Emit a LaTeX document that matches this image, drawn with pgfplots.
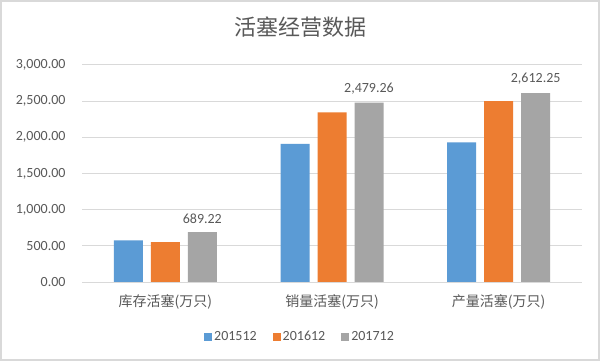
\documentclass[border=0pt]{standalone}
\usepackage{pgfplots}
\pgfplotsset{compat=1.18}
\usepackage{fontspec}
\setmainfont{Carlito}
\newfontfamily\cjk{Noto Sans CJK SC}
\definecolor{sblue}{HTML}{5B9BD5}
\definecolor{sorange}{HTML}{ED7D31}
\definecolor{sgray}{HTML}{A5A5A5}
\definecolor{txt}{HTML}{595959}
\definecolor{gridc}{HTML}{D9D9D9}
\begin{document}
\begin{tikzpicture}
\path[use as bounding box] (0,0) rectangle (600bp,361bp);
\fill[white] (0,0) rectangle (600bp,361bp);
\draw[gridc, line width=1.5bp] (1bp,1bp) rectangle (599bp,360bp);
\begin{axis}[
  at={(82bp,79bp)}, anchor=south west,
  scale only axis, width=500bp, height=217bp,
  xmin=-0.5, xmax=2.5, ymin=0, ymax=3000,
  ybar=8bp, bar width=29bp,
  xtick={0,1,2},
  xticklabels={{\cjk 库存活塞(万只)},{\cjk 销量活塞(万只)},{\cjk 产量活塞(万只)}},
  ytick={0,500,...,3000},
  /pgf/number format/.cd, fixed, fixed zerofill, precision=2, 1000 sep={,}, assume math mode=true,
  /pgfplots/.cd,
  yticklabel style={font=\fontsize{14bp}{16bp}\selectfont, text=txt, xshift=-13bp},
  xticklabel style={font=\fontsize{14bp}{16bp}\selectfont, text=txt, yshift=-9bp},
  major tick length=0pt,
  ymajorgrids, xmajorgrids=false, grid style={draw=gridc, line width=1bp},
  axis line style={draw=none},
  title={\cjk 活塞经营数据},
  title style={font=\fontsize{22bp}{26bp}\selectfont, text=txt, at={(0.436,1)}, anchor=center, yshift=32bp},
  legend style={at={(0.436,-0.2535)}, anchor=center, draw=none, fill=none,
    font=\fontsize{14bp}{16bp}\selectfont, text=txt, legend columns=3,
    /tikz/every even column/.append style={column sep=14bp}},
  legend image code/.code={\fill[#1] (0bp,-4bp) rectangle (8bp,4bp);},
]
\draw[gridc, line width=1bp] (axis cs:-0.5,0) -- (axis cs:2.5,0);
\addplot[fill=sblue, draw=none] coordinates {(0,576) (1,1910) (2,1930)};
\addplot[fill=sorange, draw=none] coordinates {(0,552) (1,2344) (2,2500)};
\addplot[fill=sgray, draw=none, nodes near coords,
  every node near coord/.append style={font=\fontsize{14bp}{16bp}\selectfont, text=txt, anchor=south, yshift=5bp}]
  coordinates {(0,689.22) (1,2479.26) (2,2612.25)};
\legend{201512,201612,201712}
\end{axis}
\end{tikzpicture}
\end{document}
